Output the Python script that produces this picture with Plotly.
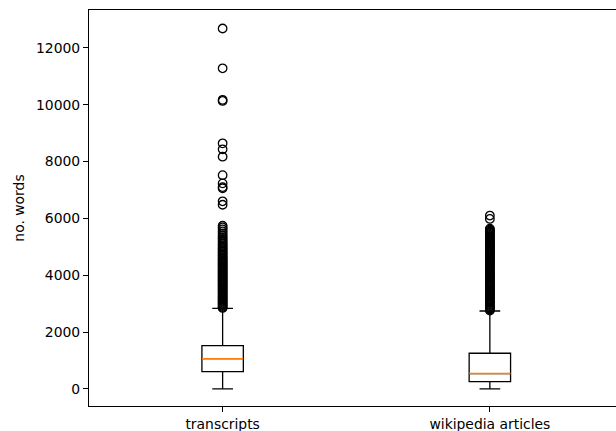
import plotly.graph_objects as go

categories = ["transcripts", "wikipedia articles"]
positions = [1, 2]

q1 = [608, 257]
median = [1065, 540]
q3 = [1522, 1255]
lower_whisker = [0, 0]
upper_whisker = [2837, 2742]

transcripts_outliers = [
    2850, 2885, 2920, 2960, 3000, 3035, 3075, 3110, 3150, 3190, 3225, 3265,
    3300, 3340, 3380, 3415, 3455, 3490, 3530, 3570, 3605, 3645, 3680, 3720,
    3760, 3795, 3835, 3870, 3910, 3950, 3985, 4025, 4060, 4100, 4140, 4175,
    4215, 4250, 4290, 4330, 4365, 4405, 4440, 4480, 4520, 4560, 4600, 4640,
    4690, 4730, 4780, 4820, 4870, 4920, 4960, 5010, 5060, 5110, 5160, 5220,
    5280, 5340, 5400, 5470, 5540, 5610, 5680, 5740,
    6480, 6600, 7060, 7100, 7230, 7520, 8170, 8430, 8640,
    10130, 10170, 11280, 12680,
]

wikipedia_outliers = [
    2760, 2795, 2830, 2870, 2905, 2945, 2980, 3020, 3055, 3095, 3130, 3170,
    3205, 3245, 3280, 3320, 3355, 3395, 3430, 3470, 3505, 3545, 3580, 3620,
    3655, 3695, 3730, 3770, 3805, 3845, 3880, 3920, 3955, 3995, 4030, 4070,
    4105, 4145, 4180, 4220, 4255, 4295, 4330, 4370, 4405, 4445, 4480, 4520,
    4555, 4595, 4630, 4670, 4705, 4745, 4780, 4820, 4855, 4895, 4930, 4970,
    5005, 5045, 5080, 5120, 5155, 5195, 5230, 5270, 5305, 5345, 5380, 5420,
    5455, 5495, 5530, 5570, 5605, 5640,
    5980, 6100,
]

y_ticks = [0, 2000, 4000, 6000, 8000, 10000, 12000]

box_width = 0.155
fig = go.Figure()

fig.add_trace(go.Box(
    x=positions, q1=q1, median=median, q3=q3,
    lowerfence=lower_whisker, upperfence=upper_whisker,
    width=box_width, whiskerwidth=0.5,
    fillcolor="rgba(0,0,0,0)", line=dict(color="black", width=1.3),
    boxpoints=False, showlegend=False, hoverinfo="skip",
))

# orange median lines
mx, my = [], []
for p, m in zip(positions, median):
    mx += [p - box_width / 2, p + box_width / 2, None]
    my += [m, m, None]
fig.add_trace(go.Scatter(
    x=mx, y=my, mode="lines", line=dict(color="#ff7f0e", width=1.5),
    showlegend=False, hoverinfo="skip",
))

for p, vals in zip(positions, [transcripts_outliers, wikipedia_outliers]):
    fig.add_trace(go.Scatter(
        x=[p] * len(vals), y=vals, mode="markers",
        marker=dict(symbol="circle-open", size=8.5, color="black",
                    line=dict(width=1.3)),
        showlegend=False, hoverinfo="skip",
    ))

font = dict(family="DejaVu Sans", size=13.9, color="black")
fig.update_layout(
    width=616, height=431,
    margin=dict(l=89, r=0, t=10, b=25),
    plot_bgcolor="white", paper_bgcolor="white",
    font=font,
    xaxis=dict(
        range=[0.5, 2.472], tickvals=positions, ticktext=categories,
        showline=True, mirror=True, linecolor="black", linewidth=1.1,
        ticks="outside", ticklen=5, tickcolor="black", tickwidth=1.1,
        showgrid=False, zeroline=False, tickfont=font,
    ),
    yaxis=dict(
        range=[-600, 13330], tickvals=y_ticks, tickformat="d",
        showline=True, mirror=False, linecolor="black", linewidth=1.1,
        ticks="outside", ticklen=5, tickcolor="black", tickwidth=1.1,
        showgrid=False, zeroline=False, tickfont=font,
        title=dict(text="no. words", standoff=8, font=font),
    ),
)

fig.write_html(
    "out.html",
    config={"displayModeBar": False},
    post_script="document.body.style.margin='0';document.body.style.overflow='hidden';",
)
